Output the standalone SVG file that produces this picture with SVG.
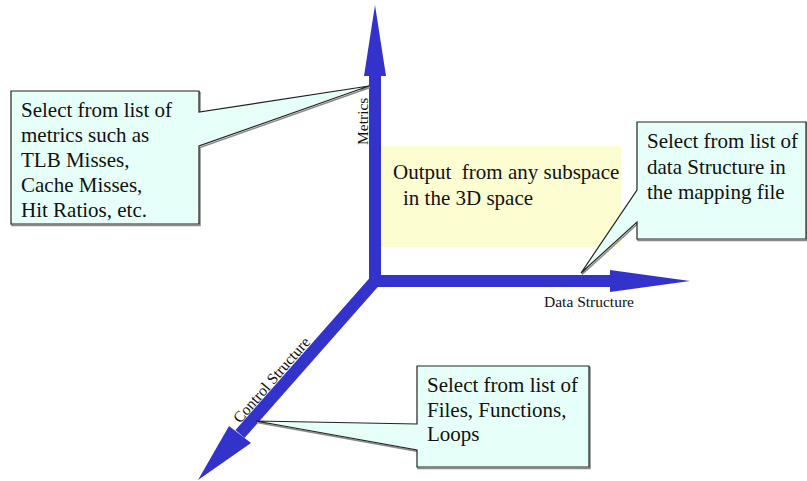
<svg xmlns="http://www.w3.org/2000/svg" xmlns:xlink="http://www.w3.org/1999/xlink" width="807" height="481" viewBox="0 0 807 481">
  <style>
    .callout { fill: #e6fff8; stroke: #222; stroke-width: 1.2; }
    .shadow { fill: none; stroke: #8a8a8a; stroke-width: 1.5; }
    .axis { stroke: #3333cc; stroke-width: 12; fill: none; }
    .head { fill: #3333cc; }
    .txt { font-family: "Liberation Serif", "Times New Roman", serif; font-size: 21px; fill: #111; }
    .lbl { font-family: "Liberation Serif", "Times New Roman", serif; font-size: 15.5px; fill: #111; }
  </style>
  <defs>
    <path id="metrics-shape" d="M11,91 H199 V112 L369,86 L199,146 V224 H11 Z"/>
    <path id="data-shape" d="M637,122 H806 V239 H637 V222 L581,273 L637,190 Z"/>
    <path id="control-shape" d="M417,366 H589 V467 H417 V450 L256,421 L417,424 Z"/>
  </defs>
  <rect width="807" height="481" fill="#fff"/>

  <!-- output region -->
  <g id="output">
    <rect x="380" y="146" width="241" height="101" fill="#fdfdd2"/>
    <text class="txt" x="393" y="179" xml:space="preserve">Output  from any subspace</text>
    <text class="txt" x="403" y="205">in the 3D space</text>
  </g>

  <!-- axes -->
  <g id="connectors">
    <path class="axis" d="M375,72 V281 H612" stroke-linejoin="round"/>
    <line class="axis" x1="375" y1="281" x2="240" y2="434"/>
    <polygon class="head" points="375,5 386,76 364,76"/>
    <polygon class="head" points="610,270 690,281 610,292"/>
    <polygon class="head" points="198,480 229,426 251,443"/>
  </g>

  <g id="axis-labels">
    <text class="lbl" transform="translate(368,145) rotate(-90)">Metrics</text>
    <text class="lbl" x="544" y="307">Data Structure</text>
    <text class="lbl" transform="translate(240,424) rotate(-49)">Control Structure</text>
  </g>

  <g id="metrics-callout">
    <use xlink:href="#metrics-shape" class="shadow" transform="translate(1,1.5)"/>
    <use xlink:href="#metrics-shape" class="callout"/>
    <text class="txt" x="21" y="117">Select from list of</text>
    <text class="txt" x="21" y="142">metrics such as</text>
    <text class="txt" x="21" y="167">TLB Misses,</text>
    <text class="txt" x="21" y="192">Cache Misses,</text>
    <text class="txt" x="21" y="217">Hit Ratios, etc.</text>
  </g>

  <g id="data-callout">
    <use xlink:href="#data-shape" class="shadow" transform="translate(1,1.5)"/>
    <use xlink:href="#data-shape" class="callout"/>
    <text class="txt" x="647" y="148">Select from list of</text>
    <text class="txt" x="647" y="174">data Structure in</text>
    <text class="txt" x="647" y="199">the mapping file</text>
  </g>

  <g id="control-callout">
    <use xlink:href="#control-shape" class="shadow" transform="translate(1,1.5)"/>
    <use xlink:href="#control-shape" class="callout"/>
    <text class="txt" x="427" y="392">Select from list of</text>
    <text class="txt" x="427" y="417">Files, Functions,</text>
    <text class="txt" x="427" y="441">Loops</text>
  </g>
</svg>
